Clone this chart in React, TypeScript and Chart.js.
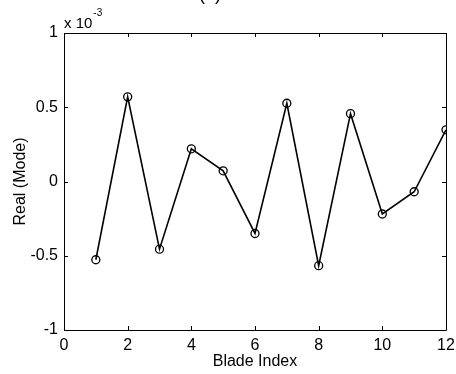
import { useEffect, useRef } from "react";
import { Chart, registerables } from "chart.js";

Chart.register(...registerables);

// Blade mode shape, real part (values in units of 1e-3)
const bladeIndex = [1, 2, 3, 4, 5, 6, 7, 8, 9, 10, 11, 12];
const realMode = [-0.527, 0.57, -0.456, 0.22, 0.072, -0.35, 0.527, -0.567, 0.457, -0.219, -0.069, 0.348];

const xTicks = [0, 2, 4, 6, 8, 10, 12];
const yTicks = [-1, -0.5, 0, 0.5, 1];
const exponentBase = "x 10";
const exponentPower = "-3";
const panelTitle = "(a)";
const xTitle = "Blade Index";
const yTitle = "Real (Mode)";

const FONT = "'Liberation Sans', Arial, sans-serif";

// Draws the boxed frame with inward ticks on all four sides, the axis
// exponent and the panel label.
const framePlugin = {
  id: "frame",
  afterDraw(chart: any) {
    const { ctx, chartArea, scales } = chart;
    const { left, right, top, bottom } = chartArea;
    const x = scales.x;
    const y = scales.y;
    const tick = 4;
    ctx.save();
    ctx.strokeStyle = "#000";
    ctx.lineWidth = 1;
    ctx.beginPath();
    ctx.rect(Math.round(left) + 0.5, Math.round(top) + 0.5, Math.round(right - left), Math.round(bottom - top));
    for (const v of xTicks) {
      const px = Math.round(x.getPixelForValue(v)) + 0.5;
      ctx.moveTo(px, bottom);
      ctx.lineTo(px, bottom - tick);
      ctx.moveTo(px, top);
      ctx.lineTo(px, top + tick);
    }
    for (const v of yTicks) {
      const py = Math.round(y.getPixelForValue(v)) + 0.5;
      ctx.moveTo(left, py);
      ctx.lineTo(left + tick, py);
      ctx.moveTo(right, py);
      ctx.lineTo(right - tick, py);
    }
    ctx.stroke();

    ctx.fillStyle = "#000";
    ctx.textAlign = "left";
    ctx.textBaseline = "alphabetic";
    ctx.font = `15px ${FONT}`;
    ctx.fillText(exponentBase, left, top - 5);
    const w = ctx.measureText(exponentBase).width;
    ctx.font = `10px ${FONT}`;
    ctx.fillText(exponentPower, left + w + 1, top - 17);

    ctx.font = `18px ${FONT}`;
    ctx.textAlign = "center";
    ctx.fillText(panelTitle, 210, 0);
    ctx.restore();
  },
};

export default function App() {
  const canvasRef = useRef<HTMLCanvasElement | null>(null);

  useEffect(() => {
    const canvas = canvasRef.current;
    if (!canvas) return;
    const chart = new Chart(canvas, {
      type: "line",
      data: {
        datasets: [
          {
            data: bladeIndex.map((b, i) => ({ x: b, y: realMode[i] })),
            borderColor: "#000",
            borderWidth: 1.6,
            pointRadius: 4,
            pointBorderWidth: 1.3,
            pointBorderColor: "#000",
            pointBackgroundColor: "rgba(255,255,255,0)",
            fill: false,
            tension: 0,
          },
        ],
      },
      options: {
        responsive: false,
        animation: false,
        devicePixelRatio: 1,
        layout: { padding: { top: 33, right: 10, left: 0, bottom: 0 } },
        plugins: {
          legend: { display: false },
          tooltip: { enabled: false },
          title: { display: false },
        },
        scales: {
          x: {
            type: "linear",
            min: 0,
            max: 12,
            grid: { display: false, drawTicks: false },
            border: { display: false },
            afterBuildTicks: (s: any) => {
              s.ticks = xTicks.map((v) => ({ value: v }));
            },
            afterFit: (s: any) => {
              s.height = 44;
              s.paddingLeft = 0;
              s.paddingRight = 0;
            },
            ticks: {
              color: "#000",
              padding: 6,
              maxRotation: 0,
              autoSkip: false,
              font: { family: FONT, size: 16 },
              callback: (v: any) => String(v),
            },
            title: {
              display: true,
              text: xTitle,
              color: "#000",
              font: { family: FONT, size: 16 },
              padding: { top: 0, bottom: 3 },
            },
          },
          y: {
            type: "linear",
            min: -1,
            max: 1,
            grid: { display: false, drawTicks: false },
            border: { display: false },
            afterBuildTicks: (s: any) => {
              s.ticks = yTicks.map((v) => ({ value: v }));
            },
            afterFit: (s: any) => {
              s.width = 64;
              s.paddingTop = 0;
              s.paddingBottom = 0;
            },
            ticks: {
              color: "#000",
              padding: 6,
              autoSkip: false,
              font: { family: FONT, size: 16 },
              callback: (v: any) => String(v),
            },
            title: {
              display: true,
              text: yTitle,
              color: "#000",
              font: { family: FONT, size: 16 },
              padding: { top: 11, bottom: 0 },
            },
          },
        },
      },
      plugins: [framePlugin],
    });
    return () => chart.destroy();
  }, []);

  return (
    <div style={{ position: "absolute", left: 0, top: 0, width: 456, height: 374, background: "#fff" }}>
      <canvas ref={canvasRef} width={456} height={374} />
    </div>
  );
}
